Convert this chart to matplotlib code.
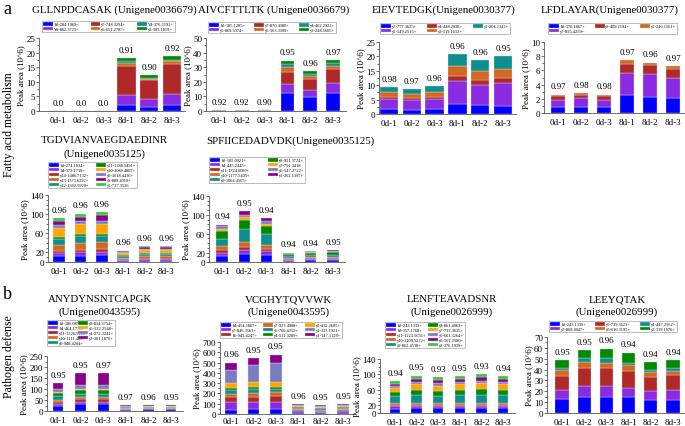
import matplotlib.pyplot as plt
from matplotlib.ticker import AutoMinorLocator

plt.rcParams['font.family'] = ['Liberation Serif', 'DejaVu Serif']

W, H = 685, 427
samples = ['0d-1', '0d-2', '0d-3', '8d-1', '8d-2', '8d-3']

BLUE = '#0000ff'
PURP = '#8a2be2'
RED = '#b02828'
ORNG = '#d2691e'
TEAL = '#0e8f8f'
GRN = '#008a00'
YEL = '#ffa500'
LAV = '#7b7bc4'
MAG = '#8b008b'
LGRN = '#33cc33'

# --- a1 GLLNPDCASAK
a1_ions = ['b3-284.1969+', 'Y8-862.3723+', 'y7-748.3294+', 'y6-651.2787+', 'Y4-376.2191+', 'y3-305.1819+']
a1_cols = [BLUE, PURP, RED, ORNG, TEAL, GRN]
a1_vals = [[0, 0, 0, 2.0, 1.3, 2.0],
           [0, 0, 0, 3.5, 2.7, 3.7],
           [0, 0, 0, 10.0, 6.5, 10.3],
           [0, 0, 0, 1.0, 0.5, 1.0],
           [0, 0, 0, 0.5, 0.4, 0.5],
           [0, 0, 0, 1.0, 0.8, 1.2]]
a1_lab = ['0.0', '0.0', '0.0', '0.91', '0.90', '0.92']

# --- a2 AIVCFTTLTK
a2_ions = ['b2-185.1285+', 'y6-869.5074+', 'y7-870.4380+', 'y5-563.3399+', 'y4-462.2922+', 'y2-248.1605+']
a2_cols = [BLUE, PURP, RED, ORNG, TEAL, GRN]
a2_vals = [[0.1, 0.1, 0.1, 12.5, 9.5, 12.5],
           [0.3, 0.4, 0.4, 6.0, 5.0, 6.5],
           [0.1, 0.1, 0.1, 8.5, 7.5, 9.5],
           [0.05, 0.05, 0.05, 3.0, 2.0, 2.5],
           [0.02, 0.02, 0.02, 2.5, 1.5, 2.0],
           [0.02, 0.02, 0.02, 2.0, 2.0, 2.0]]
a2_lab = ['0.92', '0.92', '0.90', '0.95', '0.96', '0.97']

# --- a3 EIEVTEDGK
a3_ions = ['y7-777.3625+', 'y5-549.2515+', 'y4-448.2038+', 'y3-319.1612+', 'y2-204.1343+']
a3_cols = [BLUE, PURP, RED, ORNG, TEAL]
a3_vals = [[1.8, 1.5, 1.6, 3.3, 3.0, 2.8],
           [3.5, 3.3, 3.6, 8.0, 7.2, 7.8],
           [0.7, 0.8, 0.8, 1.9, 1.6, 1.9],
           [1.5, 1.2, 1.5, 3.3, 3.0, 3.1],
           [1.8, 1.9, 2.1, 4.3, 3.9, 4.6]]
a3_lab = ['0.98', '0.97', '0.96', '0.96', '0.96', '0.95']

# --- a4 LFDLAYAR
a4_ions = ['b3-376.1867+', 'y7-855.4259+', 'y3-409.2194+', 'y2-246.1561+']
a4_cols = [BLUE, PURP, RED, ORNG]
a4_vals = [[0.8, 0.9, 0.8, 2.5, 2.2, 2.1],
           [1.0, 1.2, 1.1, 3.1, 3.3, 2.9],
           [0.6, 0.5, 0.5, 1.3, 1.2, 1.2],
           [0.2, 0.15, 0.2, 0.5, 0.4, 0.4]]
a4_lab = ['0.97', '0.98', '0.98', '0.97', '0.96', '0.97']

# --- a5 TGDVIANVAEGDAEDINR
a5_ions = ['b3-274.1034+', 'b4-373.1718+', 'y14-1486.7132+', 'y13-1373.6292+', 'y12-1302.5920+',
           'y11-1188.5491+', 'y10-1089.4807+', 'y9-1018.4436+', 'y8-889.4010+', 'y6-717.3526']
a5_cols = [BLUE, PURP, RED, ORNG, TEAL, GRN, YEL, LAV, MAG, LGRN]
a5_vals = [[11.7, 11.7, 13.7, 3.0, 3.0, 3.0],
           [8.0, 9.0, 8.0, 2.0, 2.5, 2.5],
           [3.4, 4.0, 4.8, 1.0, 1.5, 1.5],
           [12.0, 16.0, 14.4, 3.0, 4.5, 4.5],
           [14.0, 14.0, 13.0, 4.0, 5.0, 5.0],
           [3.4, 3.4, 4.8, 2.0, 2.5, 2.5],
           [18.5, 21.0, 20.0, 4.0, 7.0, 6.5],
           [5.5, 6.0, 7.5, 1.5, 2.0, 2.0],
           [10.0, 9.0, 11.0, 2.0, 3.0, 3.0],
           [4.8, 6.9, 6.9, 1.5, 2.5, 2.5]]
a5_lab = ['0.96', '0.96', '0.96', '0.96', '0.96', '0.96']

# --- a6 SPFIICEDADVDK
a6_ions = ['b2-185.0921+', 'b4-445.2445+', 'y11-1324.6089+', 'y10-1177.5405+', 'y9-1064.4565+',
           'y8-951.3724+', 'y7-791.3418', 'y5-547.2722+', 'y2-262.1397+']
a6_cols = [BLUE, PURP, RED, ORNG, TEAL, GRN, YEL, LAV, MAG]
a6_vals = [[12.0, 16.0, 14.0, 3.0, 3.5, 3.5],
           [7.7, 10.5, 9.0, 2.0, 2.5, 2.5],
           [5.0, 5.0, 5.6, 1.5, 1.5, 1.5],
           [8.4, 10.5, 8.4, 2.0, 2.5, 3.0],
           [16.0, 28.0, 22.4, 4.0, 5.0, 5.0],
           [17.5, 19.6, 18.0, 4.0, 4.5, 5.0],
           [3.5, 5.0, 4.0, 1.0, 1.0, 1.5],
           [5.6, 5.6, 5.0, 1.5, 2.0, 2.0],
           [3.5, 7.0, 6.3, 1.0, 1.5, 2.0]]
a6_lab = ['0.94', '0.95', '0.94', '0.94', '0.94', '0.95']

# --- b1 ANYDYNSNTCAPGK
b1_ions = ['b2-186.0873+', 'b4-464.1776+', 'y11-1226.5106+', 'y10-1111.4837+', 'y9-948.4204+',
           'y8-834.3754+', 'y5-522.2548+', 'y4-372.2241+', 'y3-301.1870+']
b1_cols = [BLUE, PURP, RED, ORNG, TEAL, GRN, YEL, LAV, MAG]
b1_vals = [[21, 30, 30, 6, 7, 7],
           [9, 10.6, 10.6, 2, 2, 2],
           [10.6, 12, 12, 2, 2, 2],
           [10.6, 12, 12, 2.5, 2.5, 2.5],
           [15, 13.6, 13.6, 2.5, 2.5, 2.5],
           [15, 15, 15, 3, 3, 3],
           [6, 7.5, 9, 1.5, 1.5, 1.5],
           [13.6, 16.7, 15, 2.5, 2.5, 2.5],
           [25, 56, 54.5, 5, 5, 5]]
b1_lab = ['0.95', '0.95', '0.97', '0.97', '0.96', '0.95']

# --- b2 VCGHYTQVVWK
b2_ions = ['b4-454.1867+', 'y7-846.3563+', 'b6-945.4247+', 'y7-923.4988+', 'y6-760.4352+',
           'y4-531.3289+', 'y3-432.2605+', 'y2-333.1921+', 'y1-147.1128+']
b2_cols = [BLUE, PURP, RED, ORNG, TEAL, GRN, YEL, LAV, MAG]
b2_vals = [[40, 45, 50, 10, 9, 10],
           [73, 67, 70, 15, 14, 15],
           [49, 55, 55, 12, 11, 12],
           [36, 40, 40, 10, 9, 10],
           [40, 40, 30, 12, 11, 11],
           [15, 15, 20, 8, 7, 8],
           [50, 45, 45, 10, 9, 10],
           [120, 165, 185, 12, 12, 12],
           [77, 75, 82, 8, 8, 7]]
b2_lab = ['0.96', '0.95', '0.95', '0.96', '0.95', '0.95']

# --- b3 LENFTEAVADSNR
b3_ions = ['b2-243.1339+', 'b3-357.1768+', 'y11-1223.5651+', 'y10-1109.5222+', 'y9-862.4538+',
           'y8-861.4061+', 'y7-732.3635+', 'y6-661.3264+', 'y5-562.2580+', 'y3-376.1939+']
b3_cols = [BLUE, PURP, RED, ORNG, TEAL, GRN, YEL, LAV, MAG, LGRN]
b3_vals = [[11, 12, 12, 12, 12, 12],
           [6, 6, 5, 6, 6, 6],
           [4.3, 4, 4, 4, 4, 4],
           [5, 5, 5, 5, 5, 5],
           [19, 19, 19, 20, 20, 20],
           [8, 13, 12, 13, 14, 13],
           [11, 15, 14, 15, 16, 14],
           [5, 6, 6, 6, 7, 6],
           [6, 9, 9, 8, 9, 8],
           [7, 8, 7, 6, 8, 7]]
b3_lab = ['0.94', '0.95', '0.93', '0.95', '0.93', '0.94']

# --- b4 LEEYQTAK
b4_ions = ['b2-243.1339+', 'y7-868.4047+', 'y6-739.3621+', 'y5-610.3195+', 'y4-447.2562+', 'y3-319.1976+']
b4_cols = [BLUE, PURP, RED, ORNG, TEAL, GRN]
b4_vals = [[12.5, 15, 14.4, 14.4, 12, 12],
           [8.6, 10, 10.7, 8.6, 8, 9.5],
           [13, 16, 16.2, 15.9, 13.5, 13.8],
           [5.2, 6, 5.2, 5.2, 4, 3.7],
           [2.4, 3.4, 4, 2.4, 2.4, 2.4],
           [7, 7.3, 8.9, 9.2, 7.3, 7.3]]
b4_lab = ['0.95', '0.95', '0.96', '0.94', '0.94', '0.94']


fig = plt.figure(figsize=(W / 100, H / 100), dpi=100)


def px_axes(spine, c0, c5, top, bottom):
    sp = (c5 - c0) / 5.0
    right = c5 + 0.55 * sp
    ax = fig.add_axes([spine / W, 1 - bottom / H, (right - spine) / W, (bottom - top) / H])
    ax.set_xlim(-(c0 - spine) / sp, 5 + 0.55)
    return ax


def panel(ax, vals, cols, ions, labs, ylim, yticks, width, leg_box, ncol, xpad=3.5):
    base = [0.0] * 6
    for v, c, n in zip(vals, cols, ions):
        ax.bar(range(6), v, width, bottom=base, color=c, edgecolor='#e4e4e4',
               linewidth=0.25, label=n)
        base = [b + x for b, x in zip(base, v)]
    for i, t in enumerate(base):
        ax.annotate(labs[i], (i, t), xytext=(0, 3), textcoords='offset points',
                    ha='center', va='bottom', fontsize=6.5)
    ax.set_ylim(*ylim)
    ax.set_yticks(yticks)
    ax.yaxis.set_minor_locator(AutoMinorLocator(2))
    ax.set_xticks(range(6))
    ax.set_xticklabels(samples)
    ax.tick_params(labelsize=6.5, length=2, width=0.5, pad=0.8, colors='#333333',
                   labelcolor='black')
    ax.tick_params(axis='x', length=0, pad=xpad)
    ax.tick_params(which='minor', length=1.2, width=0.4)
    for s in ['top', 'right']:
        ax.spines[s].set_visible(False)
    for s in ['left', 'bottom']:
        ax.spines[s].set_linewidth(0.6)
        ax.spines[s].set_color('#555555')
    ax.set_ylabel('Peak area (10^6)', fontsize=6.5, labelpad=1)
    x0, y0, x1, y1 = leg_box
    leg = fig.legend(handles=ax.containers, labels=ions, loc='upper left',
                     bbox_to_anchor=(x0 / W, 1 - y1 / H, (x1 - x0) / W, (y1 - y0) / H),
                     mode='expand', ncol=ncol, fontsize=3.2, frameon=True, fancybox=False,
                     edgecolor='#888888', borderpad=0.25, labelspacing=0.15,
                     handlelength=2.2, handleheight=0.8, handletextpad=0.2,
                     columnspacing=0.4, borderaxespad=0)
    leg.get_frame().set_linewidth(0.5)


def title(x, y, s, size=7.8):
    fig.text(x / W, 1 - y / H, s, ha='center', va='center', fontsize=size)


# row 1
ax = px_axes(39, 58, 172, 39, 112)
panel(ax, a1_vals, a1_cols, a1_ions, a1_lab, (0, 25), range(0, 26, 5), 0.8, (42, 22, 175, 34), 3)
ax = px_axes(206, 219, 333, 39, 112)
panel(ax, a2_vals, a2_cols, a2_ions, a2_lab, (0, 50), range(0, 51, 10), 0.6, (208, 23, 336, 34), 3)
ax = px_axes(379, 389, 503, 43, 115)
panel(ax, a3_vals, a3_cols, a3_ions, a3_lab, (0, 25), range(0, 26, 5), 0.8, (380, 24, 510, 35), 3)
ax = px_axes(544, 558, 673, 43, 114)
panel(ax, a4_vals, a4_cols, a4_ions, a4_lab, (0, 10), range(0, 11, 2), 0.65, (548, 24, 677, 35), 3)

# row 2
ax = px_axes(48, 59, 166, 196, 263)
panel(ax, a5_vals, a5_cols, a5_ions, a5_lab, (0, 140), [0, 20, 60, 100, 140], 0.55, (48, 163, 137, 195), 2)
ax = px_axes(209, 222, 333, 197, 263)
panel(ax, a6_vals, a6_cols, a6_ions, a6_lab, (0, 140), [0, 20, 60, 100, 140], 0.5, (209, 158, 305, 193), 2)

# row 3
ax = px_axes(47, 58, 171, 357, 412)
panel(ax, b1_vals, b1_cols, b1_ions, b1_lab, (0, 250), range(0, 251, 50), 0.48, (47, 321, 115, 350), 2)
ax = px_axes(220, 231, 343, 343, 415)
panel(ax, b2_vals, b2_cols, b2_ions, b2_lab, (0, 700), range(0, 701, 100), 0.52, (220, 323, 342, 340), 3,
      xpad=2)
ax = px_axes(380, 395, 503, 360, 414)
panel(ax, b3_vals, b3_cols, b3_ions, b3_lab, (0, 140), [0, 20, 60, 100, 140], 0.48, (385, 323, 465, 358), 2)
ax = px_axes(547, 562, 673, 338, 414)
panel(ax, b4_vals, b4_cols, b4_ions, b4_lab, (0, 70), range(0, 71, 10), 0.6, (549, 322, 677, 334), 3)

# titles
title(114, 10, 'GLLNPDCASAK (Unigene0036679)')
title(274, 10, 'AIVCFTTLTK (Unigene0036679)')
title(443, 10, 'EIEVTEDGK(Unigene0030377)')
title(610, 10, 'LFDLAYAR(Unigene0030377)')
title(104, 141, 'TGDVIANVAEGDAEDINR')
title(104, 154, '(Unigene0035125)')
title(290, 141, 'SPFIICEDADVDK(Unigene0035125)')
title(100, 300, 'ANYDYNSNTCAPGK')
title(100, 312, '(Unigene0043595)')
title(288, 300, 'VCGHYTQVVWK')
title(288, 312, '(Unigene0043595)')
title(452, 300, 'LENFTEAVADSNR')
title(452, 312, '(Unigene0026999)')
title(617, 300, 'LEEYQTAK')
title(617, 312, '(Unigene0026999)')

fig.text(3 / W, 1 - 9 / H, 'a', fontsize=13, ha='left', va='center')
fig.text(3 / W, 1 - 295 / H, 'b', fontsize=13, ha='left', va='center')
fig.text(9 / W, 1 - 125 / H, 'Fatty acid metabolism', rotation=90, fontsize=8.5,
         ha='center', va='center')
fig.text(9 / W, 1 - 357 / H, 'Pathogen defense', rotation=90, fontsize=8.5,
         ha='center', va='center')

fig.savefig('out.png', dpi=100)
